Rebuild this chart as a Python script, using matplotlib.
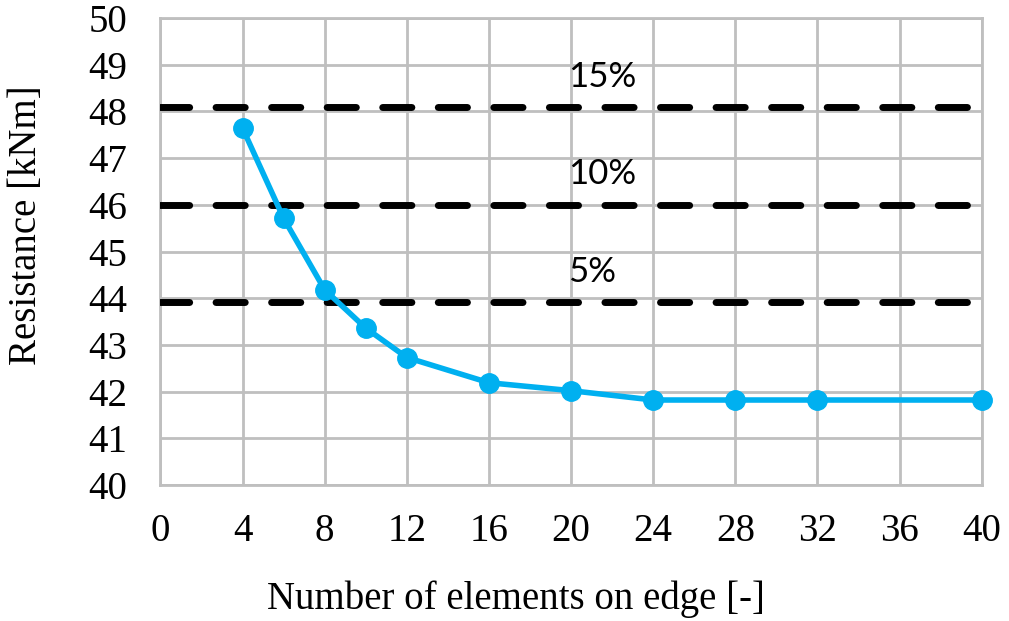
import matplotlib
matplotlib.use('Agg')
import matplotlib.pyplot as plt

# mesh study data
elements = [4, 6, 8, 10, 12, 16, 20, 24, 28, 32, 40]
resistance = [47.64, 45.71, 44.18, 43.36, 42.73, 42.19, 42.02, 41.82, 41.82, 41.82, 41.82]

# tolerance lines
tol_labels = ['5%', '10%', '15%']
tol_values = [43.91, 46.00, 48.09]

x_ticks = list(range(0, 41, 4))
y_ticks = list(range(40, 51))

plt.rcParams['font.family'] = ['Liberation Serif', 'DejaVu Serif']

fig, ax = plt.subplots(figsize=(10.09, 6.21), dpi=100)
fig.subplots_adjust(left=0.159, right=0.973, top=0.971, bottom=0.219)

ax.set_xlim(0, 40)
ax.set_ylim(40, 50)
ax.set_xticks(x_ticks)
ax.set_yticks(y_ticks)
ax.grid(True, color='#bfbfbf', linewidth=2)
ax.set_axisbelow(True)
for s in ax.spines.values():
    s.set_color('#bfbfbf')
    s.set_linewidth(2)
ax.tick_params(length=0, labelsize=28)
ax.tick_params(axis='y', pad=24)
ax.tick_params(axis='x', pad=20)

for val, lab in zip(tol_values, tol_labels):
    ax.plot([0, 40], [val, val], color='black', linewidth=5,
            linestyle=(0, (4.2, 3.8)), dash_capstyle='round', zorder=3)
    ax.text(19.85, val + 0.65, lab, fontsize=25, family=['Lato', 'DejaVu Sans'],
            ha='left', va='center', zorder=4)

ax.plot(elements, resistance, color='#00b0f0', linewidth=4, marker='o',
        markersize=14, clip_on=False, zorder=5)

ax.set_xlabel('Number of elements on edge [-]', fontsize=28, labelpad=22)
ax.set_ylabel('Resistance [kNm]', fontsize=28, labelpad=31)
# excel centres the titles on the chart area, not the plot area
ax.xaxis.label.set_x(0.433)
ax.yaxis.label.set_y(0.557)

fig.savefig('out.png', dpi=100)
